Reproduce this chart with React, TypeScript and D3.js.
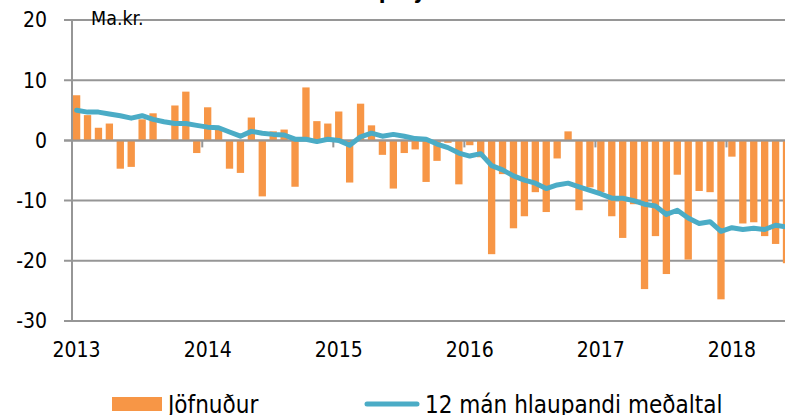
import React, { useRef, useEffect } from "react";
import * as d3 from "d3";

const years = ["2013", "2014", "2015", "2016", "2017", "2018"];

// Jöfnuður, monthly, jan 2013 - jún 2018 (ma.kr.)
const jofnudur = [
    7.5, 4.2, 2.1, 2.8, -4.7, -4.4, 3.5, 4.5, 0.1, 5.8, 8.1, -2.1,
    5.5, 2.2, -4.7, -5.4, 3.8, -9.3, 1.5, 1.8, -7.7, 8.8, 3.2, 2.8,
    4.8, -7.0, 6.1, 2.5, -2.4, -8.0, -2.1, -1.5, -6.9, -3.4, -0.4, -7.3,
    -0.8, -2.8, -18.9, -5.6, -14.6, -12.6, -8.6, -11.9, -3.0, 1.5, -11.6, -7.8,
    -8.6, -12.6, -16.2, -10.6, -24.7, -15.9, -22.2, -5.7, -19.8, -8.4, -8.6, -26.4,
    -2.7, -13.8, -13.6, -15.9, -17.2, -20.4,
];

// 12 mán hlaupandi meðaltal
const medaltal = [
    5.0, 4.7, 4.7, 4.4, 4.1, 3.7, 4.1, 3.5, 3.1, 2.8, 2.8, 2.5,
    2.2, 2.1, 1.4, 0.7, 1.5, 1.2, 1.0, 0.9, 0.2, 0.2, -0.2, 0.2,
    0.0, -0.8, 0.6, 1.2, 0.7, 1.0, 0.7, 0.3, 0.2, -0.6, -1.2, -2.1,
    -2.6, -2.2, -4.2, -4.9, -5.9, -6.6, -7.1, -8.0, -7.4, -7.1, -7.7, -8.3,
    -8.9, -9.6, -9.6, -10.0, -10.6, -10.9, -12.3, -11.6, -12.9, -13.8, -13.5, -15.1,
    -14.5, -14.8, -14.6, -14.8, -14.1, -14.4,
];

const yTicks = [20, 10, 0, -10, -20, -30];

const months = years
    .flatMap((y) => d3.range(1, 13).map((m) => `${y}-${m}`))
    .slice(0, jofnudur.length);

const W = 785;
const H = 415;
const FONT = "'Liberation Sans Narrow', 'DejaVu Sans Condensed', sans-serif";

const App: React.FC = () => {
    const svgRef = useRef<SVGSVGElement | null>(null);

    useEffect(() => {
        const svg = d3.select(svgRef.current);
        svg.selectAll("*").remove();

        const x = d3
            .scaleBand<string>()
            .domain(months)
            .range([71.2, 71.2 + months.length * 10.92])
            .paddingInner(0.33)
            .paddingOuter(0.16);

        const y = d3.scaleLinear().domain([-30, 20]).range([321, 20]);
        const cx = (m: string) => (x(m) || 0) + x.bandwidth() / 2;
        const step = x.step();
        const left = 71.2;

        // title (mostly outside the picture)
        svg.append("text")
            .attr("x", 403)
            .attr("y", -1)
            .attr("text-anchor", "middle")
            .style("font", `bold 22px ${FONT}`)
            .text("Vöruskiptajöfnuður");

        // gridlines
        svg.append("g")
            .selectAll("line")
            .data(yTicks)
            .join("line")
            .attr("x1", 64)
            .attr("x2", W)
            .attr("y1", (d) => y(d))
            .attr("y2", (d) => y(d))
            .attr("stroke", "#969696")
            .attr("stroke-width", 2);

        // y axis line
        svg.append("line")
            .attr("x1", 72)
            .attr("x2", 72)
            .attr("y1", y(20))
            .attr("y2", y(-30) + 1)
            .attr("stroke", "#969696")
            .attr("stroke-width", 2);

        svg.append("g")
            .selectAll("text")
            .data(yTicks)
            .join("text")
            .attr("x", 47)
            .attr("y", (d) => y(d))
            .attr("dy", "0.35em")
            .attr("text-anchor", "end")
            .style("font", `21px ${FONT}`)
            .attr("fill", "#000")
            .text((d) => d);

        // bars
        svg.append("g")
            .selectAll("rect")
            .data(jofnudur)
            .join("rect")
            .attr("x", (_, i) => x(months[i]) || 0)
            .attr("width", x.bandwidth())
            .attr("y", (d) => y(Math.max(0, d)))
            .attr("height", (d) => Math.abs(y(d) - y(0)))
            .attr("fill", "#f79646");

        // zero axis on top of bars, with year ticks
        svg.append("line")
            .attr("x1", 64)
            .attr("x2", W)
            .attr("y1", y(0))
            .attr("y2", y(0))
            .attr("stroke", "#969696")
            .attr("stroke-width", 2);

        svg.append("g")
            .selectAll("line")
            .data(years.slice(1))
            .join("line")
            .attr("x1", (_, i) => left + (i + 1) * 12 * step)
            .attr("x2", (_, i) => left + (i + 1) * 12 * step)
            .attr("y1", y(0))
            .attr("y2", y(0) + 7)
            .attr("stroke", "#969696")
            .attr("stroke-width", 2);

        // moving average line
        const line = d3
            .line<number>()
            .x((_, i) => cx(months[i]))
            .y((d) => y(d))
            .curve(d3.curveLinear);

        svg.append("path")
            .datum(medaltal)
            .attr("d", line)
            .attr("fill", "none")
            .attr("stroke", "#4bacc6")
            .attr("stroke-width", 5)
            .attr("stroke-linejoin", "round")
            .attr("stroke-linecap", "round");

        // year labels
        svg.append("g")
            .selectAll("text")
            .data(years)
            .join("text")
            .attr("x", (d) => cx(`${d}-1`))
            .attr("y", 357)
            .attr("text-anchor", "middle")
            .style("font", `21px ${FONT}`)
            .text((d) => d);

        svg.append("text")
            .attr("x", 91)
            .attr("y", 25)
            .style("font", `19.5px ${FONT}`)
            .text("Ma.kr.");

        // legend
        const lg = svg.append("g");
        lg.append("rect")
            .attr("x", 112)
            .attr("y", 397)
            .attr("width", 50)
            .attr("height", 14)
            .attr("fill", "#f79646");
        lg.append("text")
            .attr("x", 168)
            .attr("y", 413)
            .style("font", `24px ${FONT}`)
            .text("Jöfnuður");
        lg.append("line")
            .attr("x1", 367)
            .attr("x2", 417)
            .attr("y1", 404)
            .attr("y2", 404)
            .attr("stroke", "#4bacc6")
            .attr("stroke-width", 5)
            .attr("stroke-linecap", "round");
        lg.append("text")
            .attr("x", 425)
            .attr("y", 413)
            .style("font", `24px ${FONT}`)
            .text("12 mán hlaupandi meðaltal");
    }, []);

    return (
        <svg
            ref={svgRef}
            width={W}
            height={H}
            style={{ position: "absolute", left: 0, top: 0, background: "#fff" }}
        />
    );
};

export default App;
